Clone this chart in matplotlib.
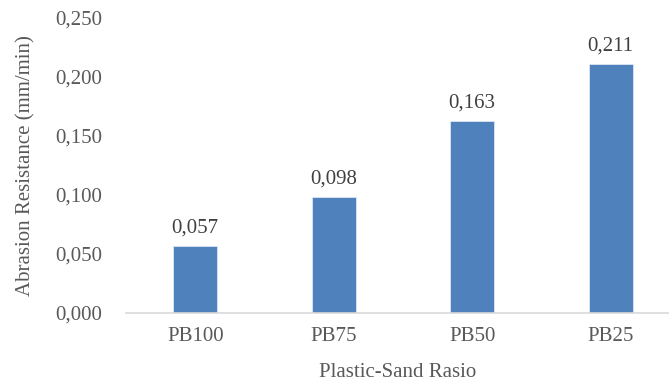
import matplotlib

matplotlib.use("Agg")
import matplotlib.pyplot as plt

categories = ["PB100", "PB75", "PB50", "PB25"]
values = [0.057, 0.098, 0.163, 0.211]
yticks = [0.000, 0.050, 0.100, 0.150, 0.200, 0.250]

plt.rcParams["font.family"] = ["Liberation Serif", "DejaVu Serif"]

W, H = 669, 382
fig = plt.figure(figsize=(W / 100, H / 100), dpi=100)
left, right, top, bottom = 126, 669, 18, 313
ax = fig.add_axes([left / W, 1 - bottom / H, (right - left) / W, (bottom - top) / H])

x = list(range(len(categories)))
ax.bar(x, values, width=0.32, color="#4F81BD", edgecolor="#DCE6F2", linewidth=0.6, zorder=2)
for xi, v in zip(x, values):
    ax.annotate(f"{v:.3f}".replace(".", ","), (xi, v), xytext=(0, 6), textcoords="offset points",
                ha="center", va="bottom", fontsize=15, color="#404040")

ax.set_xlim(-0.5, -0.5 + (right - left) / 138.5)
ax.set_ylim(0, 0.25)
ax.set_xticks(x, labels=categories)
ax.set_yticks(yticks, labels=[f"{t:.3f}".replace(".", ",") for t in yticks])
ax.tick_params(axis="both", length=0, labelsize=15, colors="#595959")
ax.tick_params(axis="y", pad=17)
ax.tick_params(axis="x", pad=10)
for s in ("top", "right", "left"):
    ax.spines[s].set_visible(False)
ax.spines["bottom"].set_color("#D9D9D9")
ax.spines["bottom"].set_linewidth(1.2)
ax.set_xlabel("Plastic-Sand Rasio", fontsize=15, color="#595959", labelpad=12)
ax.set_ylabel("Abrasion Resistance (mm/min)", fontsize=15, color="#595959", labelpad=14)

fig.savefig("out.png", dpi=100)
plt.close(fig)
